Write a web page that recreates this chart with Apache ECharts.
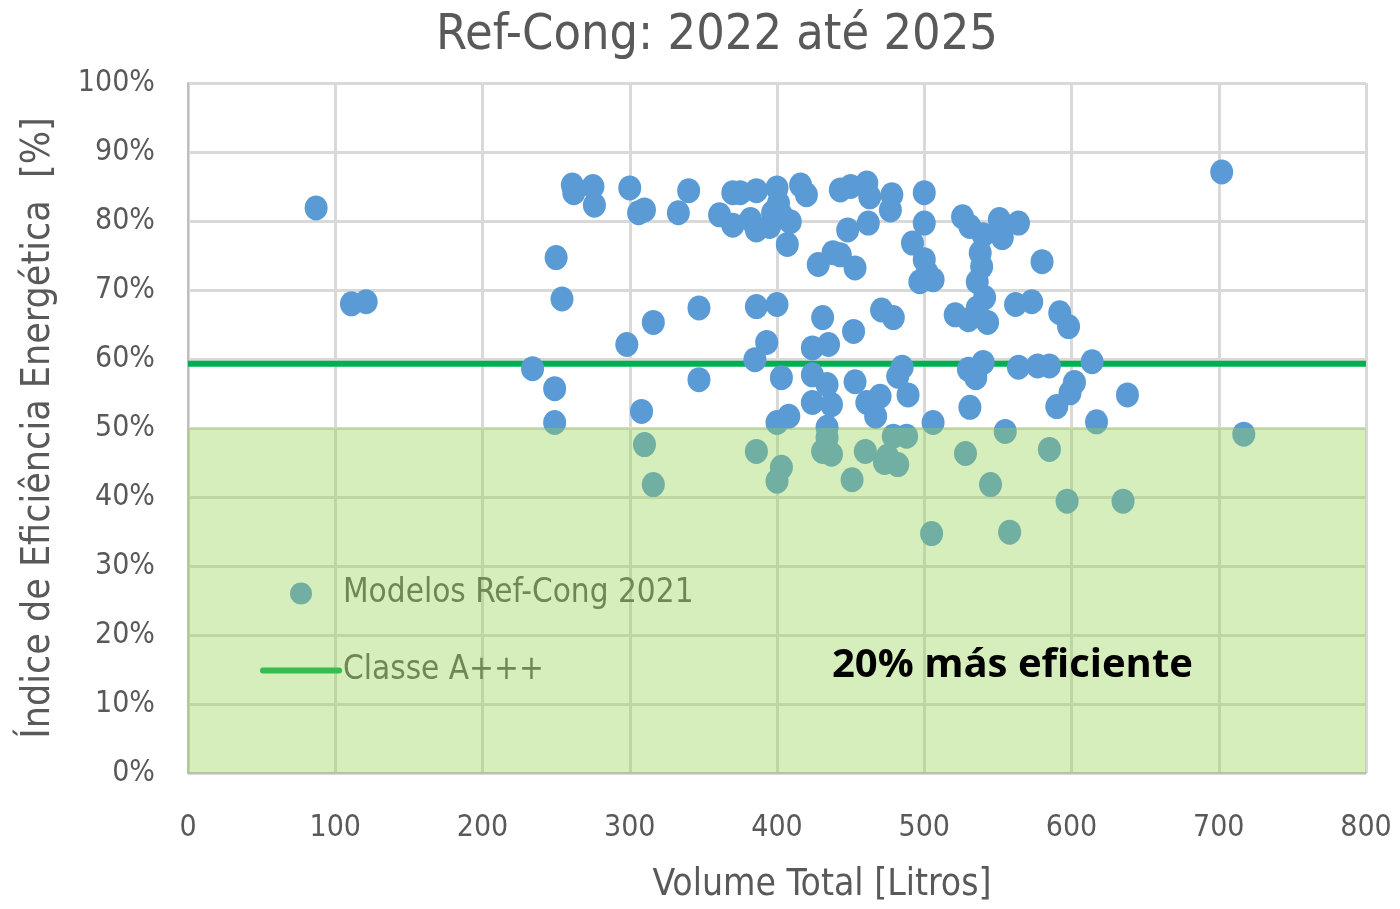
<!DOCTYPE html>
<html>
<head>
<meta charset="utf-8">
<script src="https://cdn.jsdelivr.net/npm/echarts@6/dist/echarts.min.js"></script>
<style>
html,body{margin:0;padding:0;background:#fff;}
#chart{width:1400px;height:909px;}
</style>
</head>
<body>
<div id="chart"></div>
<script>
// ---- Data ----
const chartTitle = 'Ref-Cong: 2022 até 2025';
const xAxisTitle = 'Volume Total [Litros]';
const yAxisTitle = 'Índice de Eficiência Energética  [%]';
const seriesModelos = 'Modelos Ref-Cong 2021';
const seriesClasse = 'Classe A+++';
const annotationText = '20% más eficiente';

const volumeLitros = [
  87,111,121,261,262,275,276,250,254,234,249,249,
  300,306,310,340,333,361,370,375,370,386,386,382,
  347,386,316,298,347,385,393,308,310,316,
  400,401,397,403,409,395,407,416,420,443,450,461,463,478,477,448,462,500,500,
  428,438,443,453,492,500,502,497,506,
  526,531,540,538,539,536,541,536,521,530,543,551,553,564,580,562,573,592,598,
  400,431,452,471,479,424,435,403,424,434,453,485,482,489,470,461,467,424,437,434,400,408,
  506,531,530,540,535,564,577,585,614,602,599,590,617,638,555,702,717,
  386,403,400,431,437,434,451,460,473,482,479,488,475,528,585,545,597,635,505,558
];
const indicePct = [
  81.9,68.0,68.3,85.2,84.1,85.0,82.3,74.7,68.7,58.6,55.7,50.8,
  84.8,81.2,81.6,84.4,81.2,80.9,84.1,84.1,79.4,84.4,78.7,80.2,
  67.4,67.6,65.3,62.1,57.0,59.9,62.4,52.4,47.6,41.8,
  84.8,82.6,81.2,80.9,79.9,79.2,76.6,85.2,83.8,84.5,85.0,85.5,83.5,83.8,81.6,78.7,79.7,84.1,79.7,
  73.7,75.4,75.1,73.2,76.8,74.4,72.5,71.2,71.5,
  80.6,79.2,78.0,75.4,73.4,71.2,68.9,67.4,66.4,65.7,65.3,80.2,77.6,79.7,74.1,67.9,68.3,66.7,64.7,
  67.9,66.0,64.0,67.1,66.0,61.6,62.1,57.3,57.7,56.3,56.7,58.8,57.5,54.8,54.6,53.7,51.7,53.7,53.4,50.1,50.8,51.7,
  50.8,53.0,58.5,59.5,57.3,58.8,59.0,59.0,59.6,56.6,55.1,53.1,50.9,54.8,49.5,87.1,49.1,
  46.6,44.3,42.3,46.6,46.2,48.6,42.5,46.6,45.0,44.7,48.8,48.8,45.9,46.3,46.9,41.8,39.4,39.4,34.7,34.9
];
const classeLimitPct = 59.3;      // Classe A+++ threshold
const eficienteLimitPct = 50;     // upper edge of "20% más eficiente" zone
const xRange = [0, 800];
const yRange = [0, 100];

// ---- Chart ----
const FONT = '"Liberation Sans Narrow", "DejaVu Sans Condensed", "Open Sans", sans-serif';
const GREY = '#595959';
const scatterData = volumeLitros.map((v, i) => [v, indicePct[i]]);
const lineData = xRange.map(v => [v, classeLimitPct]);

const chart = echarts.init(document.getElementById('chart'), null, {renderer: 'canvas'});
chart.setOption({
  animation: false,
  backgroundColor: '#ffffff',
  title: {
    text: chartTitle,
    left: 712, top: 6, textAlign: 'center',
    textStyle: {fontFamily: FONT, fontSize: 50, fontWeight: 'normal', color: GREY}
  },
  grid: {left: 188, right: 34, top: 83, bottom: 135, containLabel: false},
  legend: {
    orient: 'vertical',
    left: 255, top: 572,
    itemWidth: 82, itemHeight: 22, itemGap: 44,
    z: 4,
    data: [
      {name: seriesModelos, icon: 'circle'},
      {name: seriesClasse, icon: 'path://M3,0 L79,0 A3,3 0 0 1 79,6 L3,6 A3,3 0 0 1 3,0 Z'}
    ],
    textStyle: {fontFamily: FONT, fontSize: 33, color: GREY, padding: [0, 0, 0, -4]}
  },
  xAxis: {
    type: 'value', min: xRange[0], max: xRange[1], interval: 100,
    name: xAxisTitle, nameLocation: 'middle', nameGap: 94,
    nameTextStyle: {fontFamily: FONT, fontSize: 37, color: GREY, padding: [0, 0, 0, 90]},
    axisLine: {show: true, lineStyle: {color: '#bfbfbf', width: 2}},
    axisTick: {show: false},
    axisLabel: {fontFamily: FONT, fontSize: 30, color: GREY, margin: 40},
    splitLine: {show: true, lineStyle: {color: '#d9d9d9', width: 3}}
  },
  yAxis: {
    type: 'value', min: yRange[0], max: yRange[1], interval: 10,
    name: yAxisTitle, nameLocation: 'middle', nameGap: 130, nameRotate: 90,
    nameTextStyle: {fontFamily: FONT, fontSize: 39, color: GREY},
    axisLine: {show: true, lineStyle: {color: '#bfbfbf', width: 2}},
    axisTick: {show: false},
    axisLabel: {fontFamily: FONT, fontSize: 30, color: GREY, margin: 33, formatter: '{value}%'},
    splitLine: {show: true, lineStyle: {color: '#d9d9d9', width: 3}}
  },
  series: [
    {
      name: seriesModelos,
      type: 'scatter',
      z: 3,
      symbol: 'circle',
      symbolSize: [23, 25],
      itemStyle: {color: '#5b9bd5', opacity: 1},
      data: scatterData
    },
    {
      name: seriesClasse,
      type: 'line',
      z: 2,
      symbol: 'none',
      showSymbol: false,
      lineStyle: {color: '#00b050', width: 6},
      itemStyle: {color: '#00b050'},
      data: lineData
    },
    {
      name: 'zone',
      type: 'line',
      data: [],
      z: 10,
      markArea: {
        z: 10,
        silent: true,
        itemStyle: {color: 'rgba(146,208,80,0.38)'},
        label: {show: false},
        data: [[{xAxis: xRange[0], yAxis: yRange[0]}, {xAxis: xRange[1], yAxis: eficienteLimitPct}]]
      }
    }
  ],
  graphic: [{
    type: 'text', z: 100,
    left: 832, top: 646,
    style: {text: annotationText, fill: '#000000', font: 'bold 40px "Open Sans", "Liberation Sans", sans-serif'}
  }]
});
</script>
</body>
</html>
